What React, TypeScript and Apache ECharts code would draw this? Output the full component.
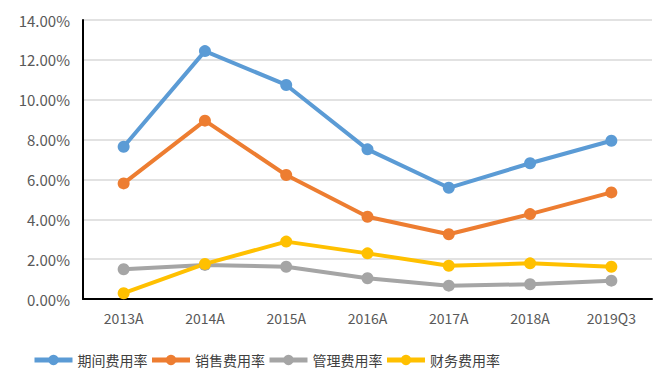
import React, { useEffect, useRef } from "react";
import * as echarts from "echarts";

const categories = ["2013A", "2014A", "2015A", "2016A", "2017A", "2018A", "2019Q3"];
const periodRate = [7.64, 12.44, 10.74, 7.51, 5.58, 6.81, 7.94];
const salesRate = [5.8, 8.95, 6.22, 4.13, 3.25, 4.26, 5.35];
const adminRate = [1.49, 1.71, 1.62, 1.04, 0.67, 0.74, 0.92];
const financeRate = [0.29, 1.76, 2.88, 2.29, 1.67, 1.79, 1.62];
const seriesNames = ["期间费用率", "销售费用率", "管理费用率", "财务费用率"];
const colors = ["#5B9BD5", "#ED7D31", "#A5A5A5", "#FFC000"];

export default function App() {
  const ref = useRef<HTMLDivElement>(null);
  useEffect(() => {
    if (!ref.current) return;
    const chart = echarts.init(ref.current, null, { renderer: "svg" });
    const data = [periodRate, salesRate, adminRate, financeRate];
    chart.setOption({
      animation: false,
      backgroundColor: "#ffffff",
      color: colors,
      grid: { left: 83, right: 20, top: 20, bottom: 78 },
      legend: {
        left: 27,
        top: 348,
        itemWidth: 38,
        itemHeight: 13,
        itemGap: 2,
        lineStyle: { width: 5 },
        textStyle: { fontFamily: "Noto Sans CJK SC", fontSize: 14, color: "#404040" },
        data: seriesNames,
      },
      xAxis: {
        type: "category",
        data: categories,
        boundaryGap: true,
        axisLine: { show: true, lineStyle: { color: "#000000", width: 2 } },
        axisTick: { show: false },
        axisLabel: { fontFamily: "Noto Sans CJK SC", fontSize: 14, color: "#595959", margin: 12 },
      },
      yAxis: {
        type: "value",
        min: 0,
        max: 14,
        interval: 2,
        axisLine: { show: true, lineStyle: { color: "#000000", width: 2 } },
        axisTick: { show: false },
        splitLine: { show: true, lineStyle: { color: "#D9D9D9", width: 1.5 } },
        axisLabel: {
          fontFamily: "Noto Sans CJK SC",
          fontSize: 15,
          color: "#595959",
          margin: 13,
          formatter: (v: number) => v.toFixed(2) + "%",
        },
      },
      series: seriesNames.map((name, i) => ({
        name,
        type: "line",
        data: data[i],
        symbol: "circle",
        symbolSize: 12,
        lineStyle: { width: 4, color: colors[i] },
        itemStyle: { color: colors[i] },
      })),
    });
    return () => chart.dispose();
  }, []);
  return <div ref={ref} style={{ width: 672, height: 377, margin: -8 }} />;
}
